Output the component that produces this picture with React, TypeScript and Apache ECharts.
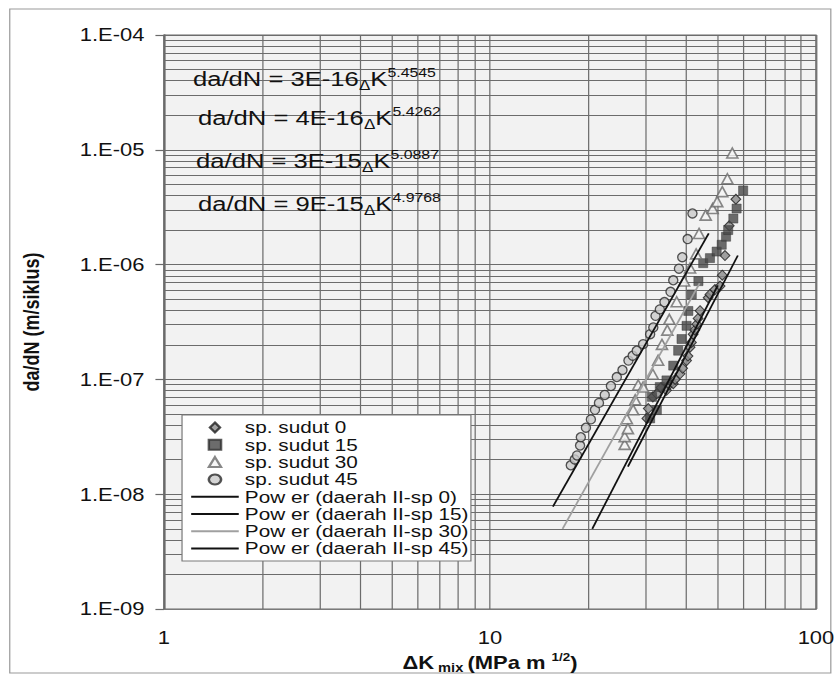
import React, { useEffect, useRef } from 'react';
import * as echarts from 'echarts';

// The reference picture is horizontally stretched; the chart is drawn narrower and stretched back.
const SX = 1.22;
const CHART_W = 688;
const CHART_H = 679;
const FONT = 'Liberation Sans, Arial, Helvetica, sans-serif';

const scatterNames = ['sp. sudut 0', 'sp. sudut 15', 'sp. sudut 30', 'sp. sudut 45'];
const trendNames = [
  'Pow er (daerah II-sp 0)',
  'Pow er (daerah II-sp 15)',
  'Pow er (daerah II-sp 30)',
  'Pow er (daerah II-sp 45)',
];

// sp. sudut 0 (diamonds)
const sp0DeltaK = [30.3, 30.6, 31.6, 32.5, 33.5, 34.8, 35.5, 36.5, 37.0, 38.3, 39.0, 40.1, 40.5, 41.1, 41.5, 42.0, 42.5, 43.1, 43.5, 44.1, 46.7, 47.3, 49.0, 50.8, 51.6, 52.6, 54.2, 56.8];
const sp0Rate = [4.58e-8, 5.58e-8, 7.05e-8, 7.5e-8, 8.5e-8, 8.05e-8, 9.0e-8, 9.18e-8, 1.0e-7, 1.12e-7, 1.25e-7, 1.46e-7, 1.6e-7, 1.91e-7, 2.1e-7, 2.48e-7, 2.7e-7, 3.03e-7, 3.4e-7, 3.97e-7, 5.15e-7, 5.5e-7, 6.07e-7, 6.5e-7, 8.09e-7, 1.2e-6, 2.18e-6, 3.71e-6];

// sp. sudut 15 (squares)
const sp15DeltaK = [31.0, 31.4, 32.5, 33.2, 34.8, 36.5, 37.8, 38.7, 40.1, 40.6, 41.6, 43.6, 45.1, 47.3, 49.6, 51.4, 53.0, 53.8, 55.8, 57.1, 59.8];
const sp15Rate = [4.58e-8, 7.05e-8, 5.41e-8, 8.59e-8, 9.82e-8, 1.32e-7, 1.78e-7, 2.25e-7, 2.93e-7, 3.95e-7, 5.5e-7, 7.18e-7, 1.03e-6, 1.14e-6, 1.3e-6, 1.49e-6, 1.75e-6, 2.0e-6, 2.52e-6, 3.08e-6, 4.43e-6];

// sp. sudut 30 (triangles)
const sp30DeltaK = [25.9, 25.9, 26.5, 26.3, 27.5, 27.9, 28.5, 29.5, 31.6, 32.8, 33.7, 35.0, 35.5, 37.4, 39.4, 41.1, 42.9, 43.8, 45.9, 48.2, 49.8, 51.6, 53.5, 55.4];
const sp30Rate = [2.72e-8, 3.18e-8, 3.73e-8, 4.55e-8, 5.44e-8, 6.64e-8, 8.95e-8, 8.59e-8, 1.11e-7, 1.47e-7, 2.02e-7, 2.69e-7, 3.34e-7, 4.75e-7, 7.21e-7, 9.35e-7, 1.24e-6, 1.87e-6, 2.7e-6, 3.08e-6, 3.54e-6, 4.32e-6, 5.6e-6, 9.38e-6];

// sp. sudut 45 (circles)
const sp45DeltaK = [17.7, 18.2, 18.5, 18.9, 19.0, 19.7, 20.4, 21.0, 21.6, 22.5, 23.5, 24.5, 25.5, 26.6, 27.4, 28.2, 29.5, 31.0, 31.7, 32.2, 33.2, 34.3, 35.8, 36.5, 38.0, 38.9, 40.4, 41.8];
const sp45Rate = [1.79e-8, 2.01e-8, 2.18e-8, 2.66e-8, 3.14e-8, 3.8e-8, 4.49e-8, 5.44e-8, 6.25e-8, 7.33e-8, 8.77e-8, 1.05e-7, 1.21e-7, 1.46e-7, 1.61e-7, 1.78e-7, 2.03e-7, 2.48e-7, 2.84e-7, 3.58e-7, 4.08e-7, 4.72e-7, 5.8e-7, 7.31e-7, 9.22e-7, 1.16e-6, 1.67e-6, 2.79e-6];

// Power trend lines (end points)
const trend0DeltaK = [26.5, 57.6];
const trend0Rate = [1.74e-8, 1.2e-6];
const trend15DeltaK = [20.6, 50.0];
const trend15Rate = [5.0e-9, 6.6e-7];
const trend30DeltaK = [16.7, 44.0];
const trend30Rate = [5.0e-9, 6.9e-7];
const trend45DeltaK = [15.6, 46.9];
const trend45Rate = [7.8e-9, 1.87e-6];

const eqCoefs = ['3E-16', '4E-16', '3E-15', '9E-15'];
const eqExps = ['5.4545', '5.4262', '5.0887', '4.9768'];

const xTickLabels = ['1', '10', '100'];
const yTickLabels = ['1.E-09', '1.E-08', '1.E-07', '1.E-06', '1.E-05', '1.E-04'];
const minorFactors = [2, 3, 4, 5, 6, 7, 8, 9];
const xDecades = [1, 10];
const yDecades = [1e-9, 1e-8, 1e-7, 1e-6, 1e-5];
const X_MIN = 1;
const X_MAX = 100;
const Y_MIN = 1e-9;
const Y_MAX = 1e-4;

const zip = (a: number[], b: number[]) => a.map((v, i) => [v, b[i]]);

export default function App() {
  const ref = useRef<HTMLDivElement>(null);

  useEffect(() => {
    if (!ref.current) return;
    const chart = echarts.init(ref.current, null, { renderer: 'svg' });

    const gridColor = '#6c6c6c';
    const minorLines: any[] = [];
    xDecades.forEach((d) =>
      minorFactors.forEach((f) => minorLines.push([{ coord: [f * d, Y_MIN] }, { coord: [f * d, Y_MAX] }]))
    );
    yDecades.forEach((d) =>
      minorFactors.forEach((f) => minorLines.push([{ coord: [X_MIN, f * d] }, { coord: [X_MAX, f * d] }]))
    );

    const scatterStyles = [
      { symbol: 'diamond', symbolSize: [8, 10], itemStyle: { color: '#8a8a8a', borderColor: '#1e1e1e', borderWidth: 1 } },
      { symbol: 'rect', symbolSize: [7.5, 9], itemStyle: { color: '#474747', borderColor: '#333', borderWidth: 0.5 } },
      { symbol: 'triangle', symbolSize: [9, 10], itemStyle: { color: '#f4f4f4', borderColor: '#6a6a6a', borderWidth: 1.5 } },
      { symbol: 'circle', symbolSize: [7.5, 9], itemStyle: { color: '#c9c9c9', borderColor: '#2a2a2a', borderWidth: 1.2 } },
    ];
    const legendIcons = [
      'path://M5,0L10,6L5,12L0,6Z',
      'path://M1,1H9V9H1Z',
      'path://M5,0L10,10H0Z',
      'path://M5,1A4,4 0 1,1 4.99,1Z',
    ];
    const scatterData = [
      zip(sp0DeltaK, sp0Rate),
      zip(sp15DeltaK, sp15Rate),
      zip(sp30DeltaK, sp30Rate),
      zip(sp45DeltaK, sp45Rate),
    ];
    const trendData = [
      zip(trend0DeltaK, trend0Rate),
      zip(trend15DeltaK, trend15Rate),
      zip(trend30DeltaK, trend30Rate),
      zip(trend45DeltaK, trend45Rate),
    ];
    const trendColors = ['#111', '#111', '#a0a0a0', '#111'];

    const series: any[] = [
      {
        name: 'grid-minor',
        type: 'line',
        data: [],
        silent: true,
        z: 1,
        markLine: {
          z: 1,
          silent: true,
          symbol: ['none', 'none'],
          label: { show: false },
          lineStyle: { type: 'solid', color: gridColor, width: 1 },
          emphasis: { disabled: true },
          data: minorLines,
        },
      },
    ];
    scatterNames.forEach((name, i) => {
      series.push({
        name,
        type: 'scatter',
        data: scatterData[i],
        z: 3,
        ...scatterStyles[i],
      });
    });
    trendNames.forEach((name, i) => {
      series.push({
        name,
        type: 'line',
        data: trendData[i],
        symbol: 'none',
        showSymbol: false,
        z: 4,
        lineStyle: { color: trendColors[i], width: 1.5 },
        itemStyle: { color: trendColors[i] },
      });
    });

    const eqY = [79, 118, 161, 204];
    const eqX = [158.2, 162.3, 160.7, 162.3];
    const graphics: any[] = [
      {
        type: 'rect',
        silent: true,
        z: -10,
        shape: { x: 8, y: 9, width: 673, height: 664 },
        style: { fill: 'none', stroke: '#9a9a9a', lineWidth: 1 },
      },
    ];
    eqCoefs.forEach((c, i) => {
      graphics.push({
        type: 'text',
        x: eqX[i],
        y: eqY[i],
        z: 10,
        silent: true,
        style: {
          text: `{m|da/dN = ${c}}{d|Δ}{m|K}{s|${eqExps[i]}}`,
          align: 'left',
          verticalAlign: 'middle',
          rich: {
            m: { fontSize: 21, fontFamily: FONT, fill: '#111', lineHeight: 26, verticalAlign: 'middle' },
            d: { fontSize: 14, fontFamily: FONT, fill: '#111', lineHeight: 14, verticalAlign: 'bottom' },
            s: { fontSize: 13, fontFamily: FONT, fill: '#111', lineHeight: 13, verticalAlign: 'top' },
          },
        },
      });
    });

    const legendData: any[] = [
      ...scatterNames.map((name, i) => ({ name, icon: legendIcons[i], symbolKeepAspect: true })),
      ...trendNames.map((name) => ({ name, itemStyle: { opacity: 0, borderWidth: 0 } })),
    ];

    const option: any = {
      animation: false,
      backgroundColor: '#ffffff',
      grid: {
        show: true,
        left: 134.4,
        top: 35,
        width: 534.4,
        height: 579,
        backgroundColor: '#f2f2f2',
        borderColor: '#6a6a6a',
        borderWidth: 1.2,
      },
      xAxis: {
        type: 'log',
        logBase: 10,
        min: X_MIN,
        max: X_MAX,
        splitNumber: 2,
        axisLine: { show: true, lineStyle: { color: '#7a7a7a', width: 1.2 } },
        axisTick: { show: false },
        minorTick: { show: false },
        axisLabel: {
          fontSize: 18,
          fontFamily: FONT,
          color: '#111',
          margin: 20,
          formatter: (v: number) => xTickLabels[Math.round(Math.log10(v))] ?? '',
        },
        splitLine: { show: true, lineStyle: { color: gridColor, width: 1 } },
        name: '{b|ΔK}{sub| mix }{b|(MPa m }{sup|1/2}{b|)}',
        nameLocation: 'middle',
        nameGap: 36,
        nameTextStyle: {
          rich: {
            b: { fontSize: 18, fontWeight: 'bold', fontFamily: FONT, color: '#111', lineHeight: 22, verticalAlign: 'middle' },
            sub: { fontSize: 12, fontWeight: 'bold', fontFamily: FONT, color: '#111', lineHeight: 12, verticalAlign: 'bottom' },
            sup: { fontSize: 11, fontWeight: 'bold', fontFamily: FONT, color: '#111', lineHeight: 11, verticalAlign: 'top' },
          },
        },
      },
      yAxis: {
        type: 'log',
        logBase: 10,
        min: Y_MIN,
        max: Y_MAX,
        splitNumber: 5,
        axisLine: { show: true, lineStyle: { color: '#6a6a6a', width: 1.5 } },
        axisTick: { show: true, inside: false, length: 7, lineStyle: { color: '#6a6a6a', width: 1.2 } },
        minorTick: { show: false },
        axisLabel: {
          fontSize: 18,
          fontFamily: FONT,
          color: '#111',
          margin: 16,
          formatter: (v: number) => yTickLabels[Math.round(Math.log10(v)) + 9] ?? '',
        },
        splitLine: { show: true, lineStyle: { color: gridColor, width: 1 } },
        name: 'da/dN (m/siklus)',
        nameLocation: 'middle',
        nameGap: 100,
        nameTextStyle: { fontSize: 18, fontWeight: 'bold', fontFamily: FONT, color: '#111' },
      },
      legend: {
        z: 20,
        orient: 'vertical',
        left: 149.2,
        top: 415,
        itemWidth: 39,
        itemHeight: 10,
        itemGap: 0.3,
        padding: [4, 2, 4, 6.5],
        backgroundColor: '#ffffff',
        borderColor: '#7a7a7a',
        borderWidth: 1,
        selectedMode: false,
        symbolKeepAspect: true,
        textStyle: { fontSize: 17, lineHeight: 16, fontFamily: FONT, color: '#111' },
        data: legendData,
      },
      graphic: graphics,
      series,
    };

    chart.setOption(option);
    return () => chart.dispose();
  }, []);

  return (
    <div
      ref={ref}
      style={{
        position: 'absolute',
        left: 0,
        top: 0,
        width: CHART_W,
        height: CHART_H,
        transform: `scaleX(${SX})`,
        transformOrigin: '0 0',
      }}
    />
  );
}
